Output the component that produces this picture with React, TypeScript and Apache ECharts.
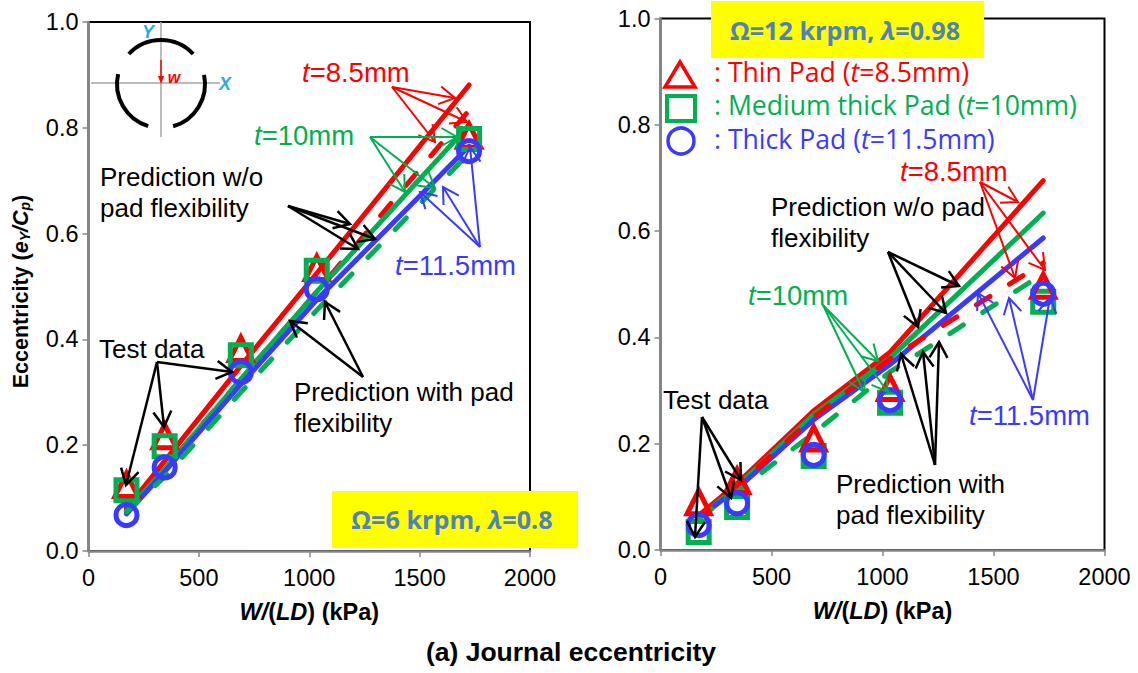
import React, { useEffect, useRef } from "react";
import * as echarts from "echarts";

const loads = [172, 345, 690, 1034, 1724];
const xTicks = [0, 500, 1000, 1500, 2000];

// Left plot: 6 krpm
const L_testThin = [0.125, 0.217, 0.382, 0.535, 0.785];
const L_testMedium = [0.115, 0.198, 0.37, 0.53, 0.779];
const L_testThick = [0.068, 0.158, 0.338, 0.495, 0.756];
const L_rigidThin = [0.08, 0.17, 0.35, 0.525, 0.881];
const L_rigidMedium = [0.075, 0.155, 0.325, 0.49, 0.805];
const L_rigidThick = [0.07, 0.15, 0.315, 0.475, 0.765];
const L_flexThin = [0.075, 0.155, 0.325, 0.49, 0.833];
const L_flexMedium = [0.074, 0.14, 0.3, 0.455, 0.752];

// Right plot: 12 krpm
const R_testThin = [0.09, 0.13, 0.21, 0.305, 0.497];
const R_testMedium = [0.034, 0.081, 0.177, 0.277, 0.467];
const R_testThick = [0.047, 0.088, 0.179, 0.282, 0.482];
const R_rigidThin = [0.065, 0.125, 0.262, 0.372, 0.695];
const R_rigidMedium = [0.06, 0.12, 0.255, 0.361, 0.634];
const R_rigidThick = [0.06, 0.115, 0.245, 0.349, 0.587];
const R_flexThin = [0.06, 0.12, 0.25, 0.36, 0.54];
const R_flexMedium = [0.06, 0.11, 0.22, 0.335, 0.52];

const RED = "#FF0000";
const GREEN = "#00B050";
const BLUE = "#3A3AFF";
const BLACK = "#000000";
const GRAY = "#868686";
const ARIAL = "Liberation Sans";
const SANS = "Open Sans";
const TITLE_BLUE = "#4F81BD";

type Pt = [number, number];
const arrowsFrom = (color: string, start: Pt, tips: Pt[], width = 2.5) => tips.map((tip) => ({ color, start, tip, width }));

const annotationArrows = [
  ...arrowsFrom(BLACK, [288, 206], [[350, 224], [375, 239], [358, 249]]),
  ...arrowsFrom(RED, [392, 87], [[455, 98], [467, 122], [435, 142]], 2),
  ...arrowsFrom(GREEN, [370, 137], [[457, 137], [435, 188], [405, 192]], 2),
  ...arrowsFrom(BLUE, [480, 247], [[470, 147], [443, 187], [420, 192]], 2),
  ...arrowsFrom(BLACK, [157, 362], [[126, 485], [164, 427], [232, 372]]),
  ...arrowsFrom(BLACK, [363, 377], [[325, 302], [290, 321]]),
  ...arrowsFrom(RED, [980, 182], [[1018, 202], [1015, 278], [1045, 270]], 2),
  ...arrowsFrom(BLACK, [888, 252], [[959, 286], [946, 313], [918, 327]]),
  ...arrowsFrom(BLACK, [935, 465], [[901, 354], [923, 352], [939, 342]]),
  ...arrowsFrom(BLUE, [1033, 400], [[978, 293], [1009, 298], [1050, 297]], 2),
  ...arrowsFrom(GREEN, [823, 305], [[878, 361], [864, 392], [888, 392]], 2),
  ...arrowsFrom(BLACK, [702, 417], [[695, 537], [731, 498], [741, 480]]),
];

const arrowGraphic = (a: { color: string; start: Pt; tip: Pt; width: number }) => {
  const ang = Math.atan2(a.start[1] - a.tip[1], a.start[0] - a.tip[0]);
  const barb = 18;
  const spread = Math.PI / 6;
  const b1: Pt = [a.tip[0] + barb * Math.cos(ang + spread), a.tip[1] + barb * Math.sin(ang + spread)];
  const b2: Pt = [a.tip[0] + barb * Math.cos(ang - spread), a.tip[1] + barb * Math.sin(ang - spread)];
  const style = { stroke: a.color, lineWidth: a.width, fill: "none" };
  return [
    { type: "polyline", z: 50, shape: { points: [a.start, a.tip] }, style },
    { type: "polyline", z: 50, shape: { points: [b1, a.tip, b2] }, style },
  ];
};

const note = (text: string, x: number, y: number, fill = BLACK, fontSize = 26) => ({
  type: "text",
  z: 60,
  x,
  y,
  style: {
    text,
    fill,
    fontSize,
    lineHeight: 26,
    fontFamily: ARIAL,
    verticalAlign: "middle",
    rich: { i: { fontStyle: "italic", fontSize, lineHeight: 26, fontFamily: ARIAL, fill } },
  },
});

const legendText = (text: string, y: number, fill: string) => ({
  type: "text",
  z: 60,
  x: 714,
  y,
  style: {
    text,
    fill,
    fontSize: 26.6,
    lineHeight: 26,
    fontFamily: SANS,
    verticalAlign: "middle",
    rich: { i: { fontStyle: "italic", fontSize: 26.6, lineHeight: 26, fontFamily: SANS, fill } },
  },
});

const yellowBox = (x: number, y: number, width: number, height: number, text: string, cx: number, cy: number) => [
  { type: "rect", z: 40, shape: { x, y, width, height }, style: { fill: "#FFFF00" } },
  {
    type: "text",
    z: 41,
    x: cx,
    y: cy,
    style: {
      text,
      fill: TITLE_BLUE,
      fontSize: 25.2,
      lineHeight: 28,
      fontWeight: "bold",
      fontFamily: SANS,
      align: "center",
      verticalAlign: "middle",
      rich: {
        i: { fontStyle: "italic", fontWeight: "bold", fontSize: 25.2, lineHeight: 28, fontFamily: SANS, fill: TITLE_BLUE },
      },
    },
  },
];

const deg = (d: number) => (d * Math.PI) / 180;
const padStyle = { stroke: BLACK, lineWidth: 4, fill: "none" };
const insetLabel = (text: string, cx: number, cy: number, fill: string, fontSize: number) => ({
  type: "text",
  z: 32,
  x: cx,
  y: cy,
  style: { text, fill, fontSize, fontWeight: "bold", fontStyle: "italic", fontFamily: ARIAL, align: "center", verticalAlign: "middle" },
});
const inset = [
  { type: "line", z: 30, shape: { x1: 91, y1: 83, x2: 220, y2: 83 }, style: { stroke: "#A6A6A6", lineWidth: 1.5 } },
  { type: "line", z: 30, shape: { x1: 161, y1: 22, x2: 161, y2: 137 }, style: { stroke: "#A6A6A6", lineWidth: 1.5 } },
  { type: "arc", z: 31, shape: { cx: 161, cy: 84, r: 44, startAngle: deg(-137), endAngle: deg(-43), clockwise: true }, style: padStyle },
  { type: "arc", z: 31, shape: { cx: 161, cy: 84, r: 44, startAngle: deg(107), endAngle: deg(193), clockwise: true }, style: padStyle },
  { type: "arc", z: 31, shape: { cx: 161, cy: 84, r: 44, startAngle: deg(-12), endAngle: deg(74), clockwise: true }, style: padStyle },
  { type: "line", z: 32, shape: { x1: 161, y1: 60, x2: 161, y2: 78 }, style: { stroke: RED, lineWidth: 1.5 } },
  { type: "polygon", z: 32, shape: { points: [[158, 76], [164, 76], [161, 84]] }, style: { fill: RED } },
  insetLabel("w", 174, 77, RED, 16),
  insetLabel("Y", 148, 32, "#29ABE2", 18),
  insetLabel("X", 225, 84, "#29ABE2", 18),
];

const legendIcons = [
  { type: "polygon", z: 60, shape: { points: [[680, 62], [665, 87], [695, 87]] }, style: { stroke: RED, lineWidth: 3.5, fill: "none" } },
  { type: "rect", z: 60, shape: { x: 667, y: 96, width: 28, height: 25 }, style: { stroke: GREEN, lineWidth: 4, fill: "none" } },
  { type: "circle", z: 60, shape: { cx: 681, cy: 141, r: 13 }, style: { stroke: BLUE, lineWidth: 3.5, fill: "none" } },
];

const pairs = (vals: number[]) => loads.map((x, i) => [x, vals[i]]);

const lineSeries = (idx: number, vals: number[], color: string, z: number, dashed = false) => ({
  type: "line",
  xAxisIndex: idx,
  yAxisIndex: idx,
  data: pairs(vals),
  symbol: "none",
  z,
  lineStyle: {
    color,
    width: 5,
    cap: "round",
    type: dashed ? [16, 23] : "solid",
  },
});

const markerSeries = (idx: number, vals: number[], color: string, symbol: string, z: number, size = 21) => ({
  type: "scatter",
  xAxisIndex: idx,
  yAxisIndex: idx,
  data: pairs(vals),
  symbol,
  symbolSize: size,
  z,
  itemStyle: { color: "rgba(255,255,255,0)", borderColor: color, borderWidth: 5, opacity: 1 },
});

const xAxisOf = (gridIndex: number, name: string) => ({
  type: "value",
  gridIndex,
  min: xTicks[0],
  max: xTicks[xTicks.length - 1],
  interval: 500,
  name,
  nameLocation: "middle",
  nameGap: 49,
  nameTextStyle: {
    fontFamily: ARIAL,
    fontSize: 23.5,
    fontWeight: "bold",
    color: BLACK,
    rich: {
      b: { fontFamily: ARIAL, fontSize: 23.5, fontWeight: "bold", color: BLACK },
      bi: { fontFamily: ARIAL, fontSize: 23.5, fontWeight: "bold", fontStyle: "italic", color: BLACK },
    },
  },
  axisLine: { show: true, lineStyle: { color: GRAY, width: 2.5 } },
  axisTick: { show: true, length: 6, lineStyle: { color: GRAY, width: 1.5 } },
  axisLabel: { margin: 15, fontFamily: ARIAL, fontSize: 23.5, color: BLACK, formatter: (v: number) => String(v) },
  splitLine: { show: false },
});

const yAxisOf = (gridIndex: number, name?: string) => ({
  type: "value",
  gridIndex,
  min: 0,
  max: 1,
  interval: 0.2,
  name,
  nameLocation: "middle",
  nameGap: 57,
  nameTextStyle: {
    fontFamily: ARIAL,
    fontSize: 21.5,
    fontWeight: "bold",
    color: BLACK,
    padding: [0, 10, 0, 0],
    rich: {
      b: { fontFamily: ARIAL, fontSize: 21.5, fontWeight: "bold", color: BLACK },
      bi: { fontFamily: ARIAL, fontSize: 21.5, fontWeight: "bold", fontStyle: "italic", color: BLACK },
      s: { fontFamily: ARIAL, fontSize: 14, fontWeight: "bold", fontStyle: "italic", color: BLACK, verticalAlign: "bottom", padding: [8, 0, 0, 0] },
    },
  },
  axisLine: { show: true, lineStyle: { color: GRAY, width: 2.5 } },
  axisTick: { show: true, length: 6, lineStyle: { color: GRAY, width: 1.5 } },
  axisLabel: { margin: 10, fontFamily: ARIAL, fontSize: 23.5, color: BLACK, formatter: (v: number) => v.toFixed(1) },
  splitLine: { show: false },
});

export default function App() {
  const ref = useRef<HTMLDivElement>(null);
  useEffect(() => {
    if (!ref.current) return;
    const chart = echarts.init(ref.current, undefined, { renderer: "svg" });
    const nameX = "{bi|W/}{b|(}{bi|LD}{b|) (kPa)}";
    chart.setOption({
      animation: false,
      backgroundColor: "#FFFFFF",
      grid: [
        { left: 88.5, top: 22, width: 441.5, height: 529, show: true, borderColor: BLACK, borderWidth: 2, backgroundColor: "transparent" },
        { left: 660.5, top: 18.5, width: 444, height: 531.5, show: true, borderColor: BLACK, borderWidth: 2, backgroundColor: "transparent" },
      ],
      xAxis: [xAxisOf(0, nameX), xAxisOf(1, nameX)],
      yAxis: [yAxisOf(0, "{b|Eccentricity (}{bi|e}{s|Y}{bi|/C}{s|p}{b|)}"), yAxisOf(1)],
      series: [
        lineSeries(0, L_rigidThin, RED, 2),
        lineSeries(0, L_flexThin, RED, 3, true),
        lineSeries(0, L_rigidMedium, GREEN, 4),
        lineSeries(0, L_rigidThick, BLUE, 5),
        lineSeries(0, L_flexMedium, GREEN, 6, true),
        markerSeries(0, L_testThin, RED, "triangle", 7, 23),
        markerSeries(0, L_testMedium, GREEN, "rect", 8),
        markerSeries(0, L_testThick, BLUE, "circle", 9),
        lineSeries(1, R_rigidThin, RED, 2),
        lineSeries(1, R_rigidMedium, GREEN, 3),
        lineSeries(1, R_rigidThick, BLUE, 4),
        lineSeries(1, R_flexThin, RED, 5, true),
        lineSeries(1, R_flexMedium, GREEN, 6, true),
        markerSeries(1, R_testMedium, GREEN, "rect", 7),
        markerSeries(1, R_testThin, RED, "triangle", 8, 23),
        markerSeries(1, R_testThick, BLUE, "circle", 9),
      ],
      graphic: {
        elements: [
          ...inset,
          ...annotationArrows.flatMap(arrowGraphic),
          ...yellowBox(332, 491, 246, 57, "Ω=6 krpm, {i|λ}=0.8", 452, 519),
          ...yellowBox(711, 1, 273, 57, "Ω=12 krpm, {i|λ}=0.98", 845, 30),
          ...legendIcons,
          legendText(": Thin Pad ({i|t}=8.5mm)", 72, RED),
          legendText(": Medium thick Pad ({i|t}=10mm)", 105, GREEN),
          legendText(": Thick Pad ({i|t}=11.5mm)", 139, BLUE),
          note("{i|t}=8.5mm", 302, 72, RED, 27.5),
          note("{i|t}=10mm", 254, 135, GREEN, 27.5),
          note("{i|t}=11.5mm", 395, 265, BLUE, 27.5),
          note("Prediction w/o", 100, 177),
          note("pad flexibility", 100, 208),
          note("Test data", 99, 349),
          note("Prediction with pad", 294, 392),
          note("flexibility", 294, 423),
          note("{i|t}=8.5mm", 900, 171, RED, 27.5),
          note("Prediction w/o pad", 771, 207),
          note("flexibility", 771, 238),
          note("{i|t}=10mm", 748, 295, GREEN, 27.5),
          note("Test data", 663, 400),
          note("Prediction with", 836, 484),
          note("pad flexibility", 836, 515),
          note("{i|t}=11.5mm", 969, 415, BLUE, 27.5),
          {
            type: "text",
            z: 60,
            x: 571,
            y: 652,
            style: { text: "(a) Journal eccentricity", fill: BLACK, fontSize: 26.5, fontWeight: "bold", fontFamily: ARIAL, align: "center", verticalAlign: "middle" },
          },
        ],
      },
    });
    return () => chart.dispose();
  }, []);
  return <div ref={ref} style={{ position: "fixed", left: 0, top: 0, width: 1138, height: 673 }} />;
}
